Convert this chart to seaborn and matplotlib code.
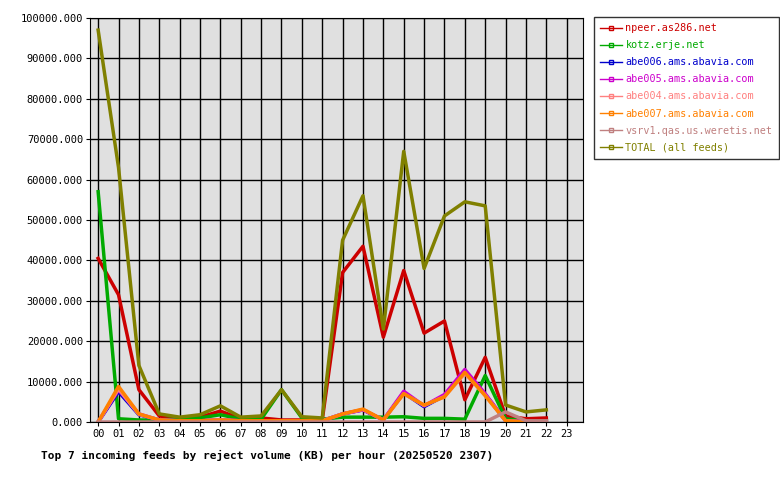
import matplotlib
matplotlib.use("Agg")
import matplotlib.pyplot as plt
import seaborn as sns
import pandas as pd
from matplotlib.lines import Line2D

hours = list(range(23))
tick_labels = [f"{h:02d}" for h in range(24)]
series_names = ["npeer.as286.net", "kotz.erje.net", "abe006.ams.abavia.com", "abe005.ams.abavia.com",
                "abe004.ams.abavia.com", "abe007.ams.abavia.com", "vsrv1.qas.us.weretis.net", "TOTAL (all feeds)"]
colors = ["#cc0000", "#00aa00", "#0000cc", "#cc00cc", "#ff8080", "#ff8000", "#c08080", "#808000"]
npeer = [40500,31500,8000,1500,800,1200,2700,800,1000,500,500,500,37000,43500,21000,37500,22000,25000,5500,16000,1500,800,1000]
kotz = [57000,800,500,500,800,1000,1800,700,700,8000,1000,700,1200,1200,1200,1300,900,900,700,11500,800,300,300]
abe006 = [0,7500,1800,500,300,300,500,300,300,300,300,300,2000,3000,500,7200,3800,6500,12500,6800,300,100,100]
abe005 = [0,8000,2000,500,300,300,500,300,300,300,300,300,2000,3000,500,7600,4000,6800,13000,7000,300,100,100]
abe004 = [0,8200,1900,500,300,300,500,300,300,300,300,300,2000,3100,500,7000,4100,6300,12000,6600,300,100,100]
abe007 = [0,8800,2000,500,300,300,500,300,300,300,300,300,2000,3200,500,7000,4200,6200,12300,6500,300,0,0]
vsrv1 = [0,0,0,0,0,0,0,0,0,0,0,0,0,0,0,0,0,0,0,0,2500,300,300]
total = [97000,63000,14000,2000,1200,1800,4000,1200,1500,8000,1300,1000,45000,56000,23000,67000,38000,51000,54500,53500,4200,2500,3000]
values = [npeer, kotz, abe006, abe005, abe004, abe007, vsrv1, total]

rows = []
for name, vals in zip(series_names, values):
    for h, v in zip(hours, vals):
        rows.append({"hour": h, "value": v, "feed": name})
df = pd.DataFrame(rows)

plt.rcParams["font.family"] = "DejaVu Sans Mono"
fig = plt.figure(figsize=(7.8, 4.8), dpi=100)
ax = fig.add_axes([90/780, 58/480, 493/780, 404/480])
ax.set_facecolor("#e0e0e0")
sns.lineplot(data=df, x="hour", y="value", hue="feed", hue_order=series_names,
             palette=colors, linewidth=2.5, ax=ax, legend=False)
ax.set_xlim(-0.4, 23.8)
ax.set_ylim(0, 100000)
ax.set_xticks(range(24))
ax.set_xticklabels(tick_labels, fontsize=7.5)
ax.set_yticks(range(0, 100001, 10000))
ax.set_yticklabels([f"{v}.000" for v in range(0, 100001, 10000)], fontsize=7.5)
ax.tick_params(length=3, pad=2)
ax.grid(True, color="black", linewidth=1)
ax.set_axisbelow(True)
ax.set_xlabel("Top 7 incoming feeds by reject volume (KB) per hour (20250520 2307)",
              fontsize=8, fontweight="bold")
ax.xaxis.set_label_coords(-0.1, -0.07)
ax.xaxis.label.set_horizontalalignment("left")
ax.set_ylabel("")
for s in ax.spines.values():
    s.set_color("black")

handles = [Line2D([0], [0], color=c, lw=1, marker="s", markersize=2.5, markerfacecolor="none") for c in colors]
leg = fig.legend(handles, series_names, loc="upper left", bbox_to_anchor=(594/780, 1-17/480),
                 fontsize=7.3, frameon=True, fancybox=False, edgecolor="black", handlelength=2.2,
                 labelspacing=0.7, borderpad=0.6, handletextpad=0.3, borderaxespad=0)
for t, c in zip(leg.get_texts(), colors):
    t.set_color(c)
fig.savefig("out.png", dpi=100)
